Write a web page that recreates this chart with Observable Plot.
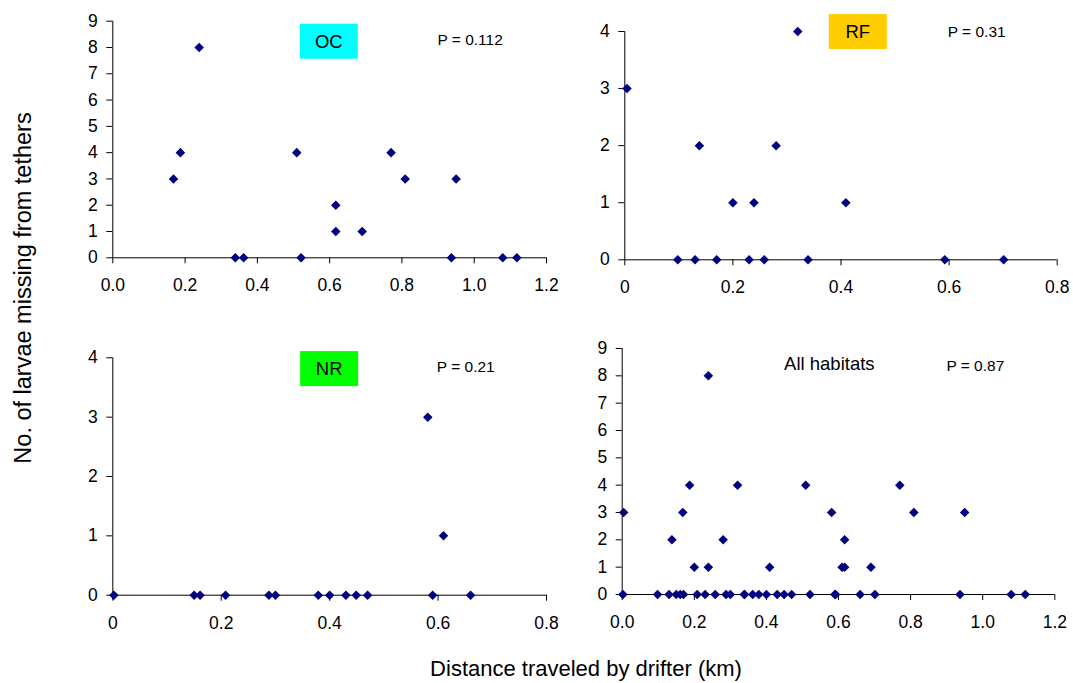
<!DOCTYPE html>
<html>
<head>
<meta charset="utf-8">
<script src="https://cdn.jsdelivr.net/npm/d3@7"></script>
<script src="https://cdn.jsdelivr.net/npm/@observablehq/plot@0.6"></script>
<style>
  body { margin: 0; background: #fff; font-family: "Liberation Sans", Arial, sans-serif; color: #000; }
  #fig { position: relative; width: 1073px; height: 683px; overflow: hidden; }
  .panel { position: absolute; }
  .ytitle { position: absolute; left: 23px; top: 288px; transform: translate(-50%, -50%) rotate(-90deg); white-space: nowrap; font-size: 23.5px; }
  .xtitle { position: absolute; left: 586px; top: 669px; transform: translate(-50%, -50%); white-space: nowrap; font-size: 22px; }
</style>
</head>
<body>
<div id="fig">
  <div class="ytitle">No. of larvae missing from tethers</div>
  <div class="xtitle">Distance traveled by drifter (km)</div>
</div>
<script>
// Drift distance (km) and larvae missing from tethers, per habitat
const ocDistance = [0.168, 0.187, 0.239, 0.339, 0.362, 0.509, 0.521, 0.617, 0.617, 0.690, 0.770, 0.809, 0.937, 0.950, 1.079, 1.118];
const ocMissing  = [3, 4, 8, 0, 0, 4, 0, 2, 1, 1, 4, 3, 0, 3, 0, 0];

const rfDistance = [0.004, 0.098, 0.130, 0.138, 0.170, 0.200, 0.230, 0.239, 0.258, 0.280, 0.320, 0.339, 0.409, 0.592, 0.701];
const rfMissing  = [3, 0, 0, 2, 0, 1, 0, 1, 0, 2, 4, 0, 1, 0, 0];

const nrDistance = [0.002, 0.150, 0.161, 0.208, 0.288, 0.300, 0.379, 0.400, 0.430, 0.449, 0.470, 0.581, 0.590, 0.610, 0.660];
const nrMissing  = [0, 0, 0, 0, 0, 0, 0, 0, 0, 0, 0, 3, 0, 1, 0];

// All habitats pooled
const allDistance = [...ocDistance, ...rfDistance, ...nrDistance];
const allMissing  = [...ocMissing, ...rfMissing, ...nrMissing];

// Tick values
const xTicksWide   = [0, 0.2, 0.4, 0.6, 0.8, 1.0, 1.2];
const xTicksNarrow = [0, 0.2, 0.4, 0.6, 0.8];
const yTicksNine   = [0, 1, 2, 3, 4, 5, 6, 7, 8, 9];
const yTicksFour   = [0, 1, 2, 3, 4];

// Habitat labels and test results
const habitatLabels = ["OC", "RF", "NR", "All habitats"];
const habitatFills  = ["#00ffff", "#ffcc00", "#00ff00", null];
const pLabels       = ["P = 0.112", "P = 0.31", "P = 0.21", "P = 0.87"];

const FONT = "'Liberation Sans', Arial, Helvetica, sans-serif";
const fmtOne = d3.format(".1f");
const fmtGeneral = d => String(d);

const panels = [
  { distance: ocDistance, missing: ocMissing, xDomain: [0, 1.2], yDomain: [0, 9],
    xTicks: xTicksWide, xFormat: fmtOne, yTicks: yTicksNine,
    label: { x: 0.599, y: 8.22 }, p: { x: 0.99, y: 8.27 },
    box: { left: 0, top: 0, width: 560, height: 300, mt: 20.7, mr: 14, mb: 42.7, ml: 112.3 } },
  { distance: rfDistance, missing: rfMissing, xDomain: [0, 0.8], yDomain: [0, 4],
    xTicks: xTicksNarrow, xFormat: fmtGeneral, yTicks: yTicksFour,
    label: { x: 0.432, y: 3.99 }, p: { x: 0.652, y: 4.0 },
    box: { left: 560, top: 0, width: 513, height: 300, mt: 31, mr: 16.3, mb: 40.7, ml: 64.3 } },
  { distance: nrDistance, missing: nrMissing, xDomain: [0, 0.8], yDomain: [0, 4],
    xTicks: xTicksNarrow, xFormat: fmtGeneral, yTicks: yTicksFour,
    label: { x: 0.400, y: 3.81 }, p: { x: 0.652, y: 3.84 },
    box: { left: 0, top: 320, width: 560, height: 320, mt: 37.3, mr: 14, mb: 45.3, ml: 112.3 } },
  { distance: allDistance, missing: allMissing, xDomain: [0, 1.2], yDomain: [0, 9],
    xTicks: xTicksWide, xFormat: fmtOne, yTicks: yTicksNine,
    label: { x: 0.576, y: 8.44 }, p: { x: 0.981, y: 8.38 },
    box: { left: 560, top: 320, width: 513, height: 320, mt: 28, mr: 18.7, mb: 46, ml: 61.7 } }
];

// Habitat tag (optionally on a coloured box) and P value, placed in data space
function notes(cfg, i) {
  return (index, scales) => {
    const g = d3.create("svg:g").attr("font-family", FONT).attr("fill", "#000");
    const lx = scales.x(cfg.label.x), ly = scales.y(cfg.label.y);
    if (habitatFills[i]) {
      g.append("rect")
        .attr("x", lx - 29).attr("y", ly - 17.5)
        .attr("width", 58).attr("height", 35)
        .attr("fill", habitatFills[i]);
    }
    g.append("text")
      .attr("x", lx).attr("y", ly).attr("dy", "0.36em")
      .attr("text-anchor", "middle").attr("font-size", 18.5)
      .text(habitatLabels[i]);
    g.append("text")
      .attr("x", scales.x(cfg.p.x)).attr("y", scales.y(cfg.p.y)).attr("dy", "0.36em")
      .attr("text-anchor", "middle").attr("font-size", 15.5)
      .text(pLabels[i]);
    return g.node();
  };
}

const fig = document.getElementById("fig");

panels.forEach((cfg, i) => {
  const data = cfg.distance.map((d, k) => ({ distance: d, missing: cfg.missing[k] }));
  const b = cfg.box;
  const chart = Plot.plot({
    width: b.width, height: b.height,
    marginTop: b.mt, marginRight: b.mr, marginBottom: b.mb, marginLeft: b.ml,
    style: { fontFamily: FONT, fontSize: "17.5px", color: "#000", background: "transparent", overflow: "visible" },
    x: { domain: cfg.xDomain },
    y: { domain: cfg.yDomain },
    marks: [
      Plot.ruleY([cfg.yDomain[0]], { stroke: "#000", strokeWidth: 1 }),
      Plot.ruleX([cfg.xDomain[0]], { stroke: "#000", strokeWidth: 1 }),
      Plot.axisX(cfg.xTicks, { tickFormat: cfg.xFormat, tickSize: 6, tickPadding: 15, label: null, stroke: "#000" }),
      Plot.axisY(cfg.yTicks, { tickFormat: d => String(d), tickSize: 6, tickPadding: 9, label: null, stroke: "#000" }),
      Plot.dot(data, { x: "distance", y: "missing", symbol: "diamond2", r: 4.3, fill: "#000080", stroke: "none" }),
      notes(cfg, i)
    ]
  });
  const holder = document.createElement("div");
  holder.className = "panel";
  holder.style.left = b.left + "px";
  holder.style.top = b.top + "px";
  holder.appendChild(chart);
  fig.appendChild(holder);
});
</script>
</body>
</html>
